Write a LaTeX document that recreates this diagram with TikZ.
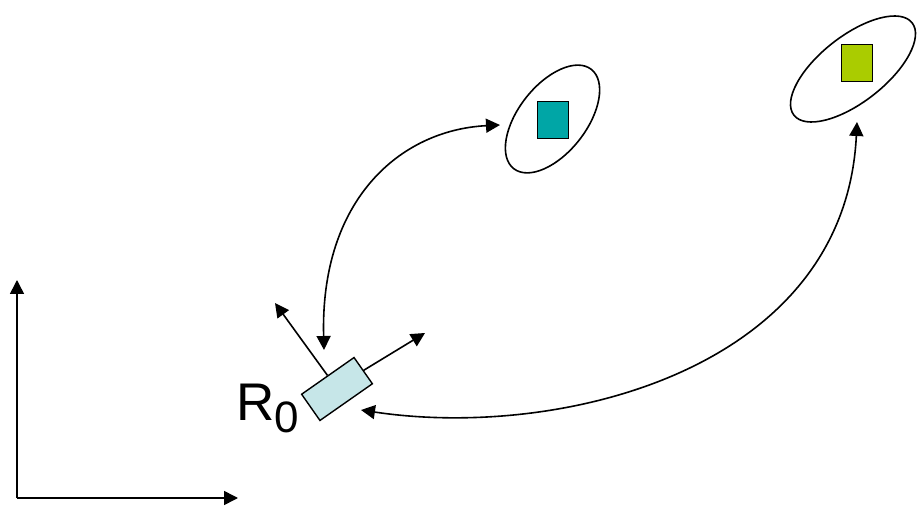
\documentclass[tikz,border=0pt]{standalone}
\usepackage{fontspec}
\setmainfont{Liberation Sans}
\usetikzlibrary{arrows.meta, shapes.geometric}
\definecolor{mapteal}{HTML}{00A6A6}
\definecolor{mapgreen}{HTML}{AACC00}
\definecolor{robotblue}{HTML}{C6E6E8}

\begin{document}
\begin{tikzpicture}[x=1pt, y=-1pt,
    link/.style={-{Triangle[length=14pt, width=14pt]}, line width=1.6pt},
    twoway/.style={{Triangle[length=14pt, width=14pt]}-{Triangle[length=14pt, width=14pt]}, line width=1.6pt},
    landmark/.style={draw, line width=1.4pt, minimum width=31pt, minimum height=37pt, inner sep=0pt},
    zone/.style={draw, ellipse, line width=1.6pt, inner sep=0pt}]
  \useasboundingbox (0,0) rectangle (920,510);

  % world frame
  \coordinate (origin) at (17,498);
  \coordinate (yend) at (17,280);
  \coordinate (xend) at (238,498);
  \draw[link] (origin) -- (yend);
  \draw[link] (origin) -- (xend);

  % robot and its own frame
  \node[draw, fill=robotblue, line width=1.4pt, minimum width=64pt, minimum height=32pt,
        inner sep=0pt, rotate=35] (robot) at (337,389) {};
  \coordinate (robotup) at (275,303);
  \coordinate (robotfwd) at (425,333);
  \draw[link] (robot.north) -- (robotup);
  \draw[link] (robot.east) -- (robotfwd);
  \node[anchor=base west, inner sep=0pt, font=\fontsize{53}{60}\selectfont] (rname) at (236,420)
    {R\raisebox{-12pt}{\fontsize{44}{50}\selectfont 0}};

  % landmarks with their uncertainty
  \node[zone, minimum width=126pt, minimum height=68pt, rotate=52] (nearzone) at (552.5,119) {};
  \node[landmark, fill=mapteal] (near) at (553,120) {};
  \node[zone, minimum width=150pt, minimum height=66pt, rotate=38] (farzone) at (853,69) {};
  \node[landmark, fill=mapgreen] (far) at (857,63) {};

  % observations
  \coordinate (nearin) at (500,125);
  \coordinate (farin) at (857,122);
  \coordinate (robottop) at (324,350);
  \coordinate (robotside) at (361,410);
  \draw[twoway] (robottop) .. controls (320,200) and (400,130) .. (nearin);
  \draw[twoway] (robotside) .. controls (560,440) and (845,370) .. (farin);
\end{tikzpicture}
\end{document}
